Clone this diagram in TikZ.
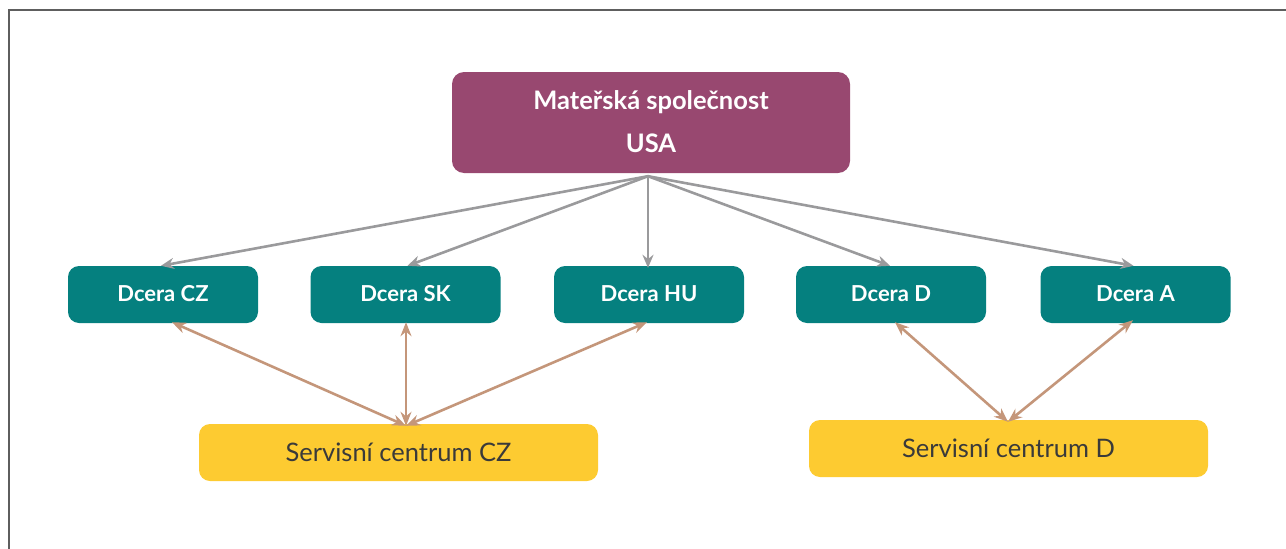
\documentclass[tikz,border=0pt]{standalone}
\usepackage{fontspec}
\setmainfont{Lato}
\usetikzlibrary{arrows.meta}
\definecolor{mauve}{HTML}{984870}
\definecolor{tealbox}{HTML}{05807F}
\definecolor{yellowbox}{HTML}{FDCB31}
\definecolor{brownarr}{HTML}{C4967A}
\definecolor{greyarr}{HTML}{9A9A9C}
\definecolor{framegrey}{HTML}{5E5E5E}
\definecolor{servtext}{HTML}{3A3A3A}
\tikzset{
  parentbox/.style={fill=mauve, rounded corners=12pt, minimum width=398pt, minimum height=101pt, text=white, font=\bfseries\fontsize{25.5}{43}\selectfont, align=center, inner sep=0pt},
  daughterbox/.style={fill=tealbox, rounded corners=11pt, minimum width=190pt, minimum height=57pt, text=white, font=\bfseries\fontsize{22}{26}\selectfont, inner sep=0pt},
  servicebox/.style={fill=yellowbox, rounded corners=11pt, minimum width=399pt, minimum height=57pt, text=servtext, font=\fontsize{25.5}{30}\selectfont, inner sep=0pt},
  greyarrow/.style={draw=greyarr, line width=2.6pt, -{Stealth[length=13pt,width=11pt]}},
  brownarrow/.style={draw=brownarr, line width=2.6pt, {Stealth[length=14pt,width=11pt]}-{Stealth[length=14pt,width=11pt]}},
}
\begin{document}
\begin{tikzpicture}[x=1pt,y=-1pt]
\useasboundingbox (0,0) rectangle (1286,549);
\draw[framegrey, line width=1.8pt] (9,549) -- (9,10) -- (1286,10);

\node[parentbox] (usa) at (651,122.5) {\raisebox{2pt}{Mateřská společnost}\\\raisebox{2pt}{USA}};

\node[daughterbox] (cz) at (163,294.5) {\raisebox{2pt}{Dcera CZ}};
\node[daughterbox] (sk) at (405.5,294.5) {\raisebox{2pt}{Dcera SK}};
\node[daughterbox] (hu) at (649,294.5) {\raisebox{2pt}{Dcera HU}};
\node[daughterbox] (d)  at (891,294.5) {\raisebox{2pt}{Dcera D}};
\node[daughterbox] (a)  at (1135.5,294.5) {\raisebox{2pt}{Dcera A}};

\node[servicebox] (scz) at (398.5,452.5) {Servisní centrum CZ};
\node[servicebox] (sd)  at (1008.5,448.5) {Servisní centrum D};

\coordinate (src) at ([xshift=-3pt,yshift=-3pt]usa.south);
\draw[greyarrow] (src) -- ([xshift=-2pt]cz.north);
\draw[greyarrow] (src) -- ([xshift=2pt]sk.north);
\draw[greyarrow] (src) -- ([xshift=-1pt,yshift=-2pt]hu.north);
\draw[greyarrow] (src) -- ([xshift=-1pt]d.north);
\draw[greyarrow] (src) -- ([xshift=-2pt]a.north);

\coordinate (hubcz) at ([xshift=7.5pt,yshift=-2pt]scz.north);
\draw[brownarrow] ([xshift=9pt,yshift=1pt]cz.south) -- (hubcz);
\draw[brownarrow] ([xshift=0.5pt,yshift=1pt]sk.south) -- (hubcz);
\draw[brownarrow] ([xshift=-2pt,yshift=1pt]hu.south) -- (hubcz);

\coordinate (hubd) at ([xshift=-0.5pt,yshift=-2pt]sd.north);
\draw[brownarrow] ([xshift=4pt,yshift=1pt]d.south) -- (hubd);
\draw[brownarrow] ([xshift=-2.5pt,yshift=3pt]a.south) -- (hubd);
\end{tikzpicture}
\end{document}
